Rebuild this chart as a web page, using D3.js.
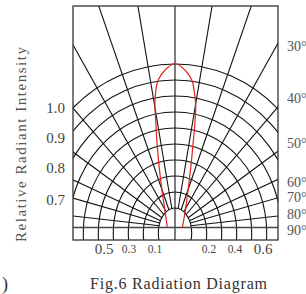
<!DOCTYPE html>
<html>
<head>
<meta charset="utf-8">
<script src="https://cdn.jsdelivr.net/npm/d3@7"></script>
<style>
  html, body { margin: 0; padding: 0; background: #fff; }
  text { font-family: "Liberation Serif", "DejaVu Serif", serif; }
</style>
</head>
<body>
<svg id="chart" width="306" height="294"></svg>
<script>
// Data
const ringLevels = [0, 1, 2, 3, 4, 5, 6, 7, 8, 9];
const spokeAngles = [9.5, 19, 29.2, 40.5, 53.5, 65, 73.9, 83.6];
const angleLabels = ["30°", "40°", "50°", "60°", "70°", "80°", "90°"];
const intensityLabels = ["1.0", "0.9", "0.8", "0.7"];
const bottomLabels = ["0.5", "0.3", "0.1", "0.2", "0.4", "0.6"];

// red lobe: angle (deg from axis) and relative intensity
const lobeAngles = [-90, -32, -18.7, -14.4, -11.9, -10.3, -9.3, -8.1, -6.5, -3.6, 0,
                    3.6, 6.5, 8.1, 9.6, 10.7, 12.0, 14.4, 18.7, 28.8, 90];
const lobeValues = [0.047, 0.114, 0.252, 0.393, 0.535, 0.654, 0.757, 0.836, 0.905, 0.962, 1.0,
                    0.962, 0.905, 0.836, 0.757, 0.657, 0.535, 0.393, 0.252, 0.136, 0.045];

const svg = d3.select("#chart");

// frame
const frameL = 73, frameR = 278, frameT = 6, frameB = 240;
const cx = 175, cy = 227.5;   // origin of the spokes / lobe
const ringCy = 233;           // rings sit a bit lower

svg.append("defs").append("clipPath").attr("id", "frameClip")
    .append("rect")
    .attr("x", frameL).attr("y", frameT)
    .attr("width", frameR - frameL).attr("height", frameB - frameT);

const rx = d3.scaleLinear().domain([0, 9]).range([16.7, 151.7]);
const ry = d3.scaleLinear().domain([0, 9]).range([25, 169]);
const rScale = d3.scaleLinear().domain([0, 1]).range([0, 164]);

const grid = svg.append("g").attr("clip-path", "url(#frameClip)");

// spokes
const spokes = spokeAngles.flatMap(a => [a, -a]);
grid.selectAll("line.spoke")
    .data(spokes)
    .enter()
    .append("line")
    .attr("class", "spoke")
    .attr("x1", cx).attr("y1", cy)
    .attr("x2", d => cx + 400 * Math.sin(d * Math.PI / 180))
    .attr("y2", d => cy - 400 * Math.cos(d * Math.PI / 180))
    .style("stroke", "#111")
    .style("stroke-width", 1.1);

// rings
grid.selectAll("ellipse.ring")
    .data(ringLevels)
    .enter()
    .append("ellipse")
    .attr("class", "ring")
    .attr("cx", cx).attr("cy", ringCy)
    .attr("rx", d => rx(d))
    .attr("ry", d => ry(d))
    .style("fill", d => d === 0 ? "#fff" : "none")
    .style("stroke", "#111")
    .style("stroke-width", 1.1);

// center line and 90 degree line
grid.append("line")
    .attr("x1", cx).attr("x2", cx).attr("y1", frameT).attr("y2", frameB)
    .style("stroke", "#111").style("stroke-width", 1.1);
grid.append("line")
    .attr("x1", frameL).attr("x2", frameR).attr("y1", cy).attr("y2", cy)
    .style("stroke", "#444").style("stroke-width", 1.6);

// red lobe
const lobe = lobeAngles.map((a, i) => [a, lobeValues[i]]);
svg.append("path")
    .datum(lobe)
    .attr("transform", `translate(${cx},${cy})`)
    .attr("d", d3.lineRadial()
        .angle(d => d[0] * Math.PI / 180)
        .radius(d => rScale(d[1]))
        .curve(d3.curveCatmullRom.alpha(0.5)))
    .style("fill", "none")
    .style("stroke", "#e3211c")
    .style("stroke-width", 1.2);

// frame
svg.append("rect")
    .attr("x", frameL).attr("y", frameT)
    .attr("width", frameR - frameL).attr("height", frameB - frameT)
    .style("fill", "none")
    .style("stroke", "#333")
    .style("stroke-width", 1.3);

// right angle labels
const angleLabelY = [46, 98, 143, 182, 197, 214, 230];
svg.selectAll("text.ang")
    .data(angleLabels)
    .enter()
    .append("text")
    .attr("class", "ang")
    .attr("x", 287)
    .attr("y", (d, i) => angleLabelY[i])
    .attr("dominant-baseline", "central")
    .style("font-size", "14px")
    .style("fill", "#555")
    .text(d => d);

// left intensity labels
const intensityLabelY = [108, 138, 168, 200];
svg.selectAll("text.int")
    .data(intensityLabels)
    .enter()
    .append("text")
    .attr("class", "int")
    .attr("x", 65)
    .attr("y", (d, i) => intensityLabelY[i])
    .attr("text-anchor", "end")
    .attr("dominant-baseline", "central")
    .style("font-size", "15px")
    .style("fill", "#444")
    .text(d => d);

// bottom labels
const bottomX = [104, 129, 155, 209, 235, 263];
svg.selectAll("text.bot")
    .data(bottomLabels)
    .enter()
    .append("text")
    .attr("class", "bot")
    .attr("x", (d, i) => bottomX[i])
    .attr("y", 249)
    .attr("text-anchor", "middle")
    .attr("dominant-baseline", "central")
    .style("font-size", d => (d === "0.5" || d === "0.6") ? "15px" : "11.5px")
    .style("fill", "#444")
    .text(d => d);

// axis title
svg.append("text")
    .attr("transform", "translate(21,144.5) rotate(-90)")
    .attr("text-anchor", "middle")
    .attr("dominant-baseline", "central")
    .attr("textLength", 195)
    .attr("lengthAdjust", "spacing")
    .style("font-size", "15px")
    .style("fill", "#555")
    .text("Relative Radiant Intensity");

// caption
svg.append("text")
    .attr("x", 178.5)
    .attr("y", 283)
    .attr("text-anchor", "middle")
    .attr("dominant-baseline", "central")
    .attr("textLength", 177)
    .attr("lengthAdjust", "spacing")
    .style("font-size", "16px")
    .style("fill", "#333")
    .text("Fig.6 Radiation Diagram");

svg.append("text")
    .attr("x", 2)
    .attr("y", 290)
    .style("font-size", "18px")
    .style("fill", "#333")
    .text(")");
</script>
</body>
</html>
